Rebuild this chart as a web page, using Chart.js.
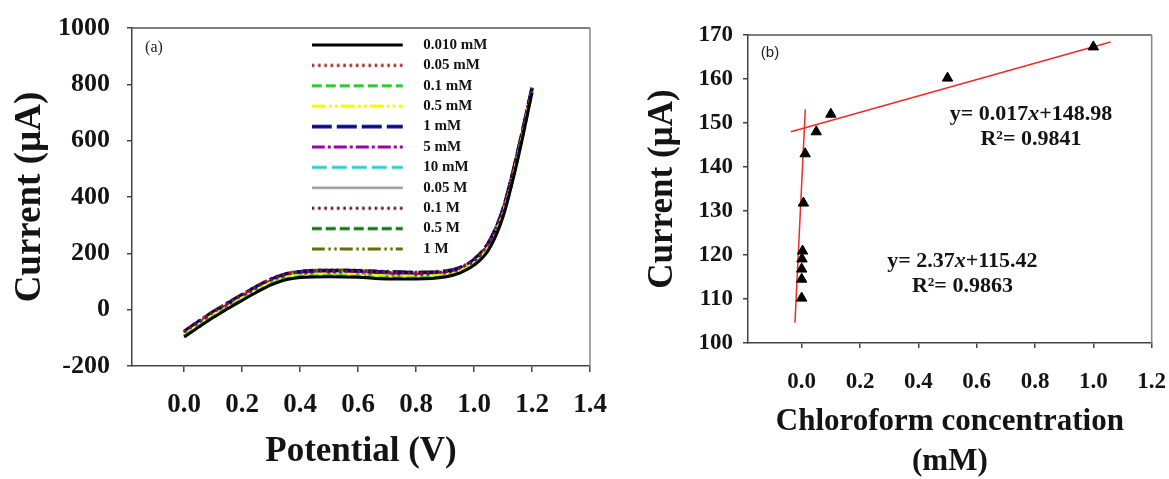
<!DOCTYPE html>
<html><head><meta charset="utf-8">
<script src="https://cdn.jsdelivr.net/npm/chart.js@4.4.1/dist/chart.umd.min.js"></script>
<style>
html,body{margin:0;padding:0;background:#fff;overflow:hidden;width:1169px;height:479px;}
#wa{position:absolute;left:0;top:0;width:620px;height:479px;}
#wb{position:absolute;left:620px;top:0;width:549px;height:479px;}
</style></head><body>
<div id="wa"><canvas id="ca"></canvas></div>
<div id="wb"><canvas id="cb"></canvas></div>
<script>
// ---------- Panel (a) data ----------
const potentials = [0,0.05,0.1,0.15,0.2,0.25,0.3,0.35,0.4,0.5,0.6,0.7,0.8,0.9,0.95,1.0,1.05,1.1,1.15,1.2];
const seriesNames = ['0.010 mM','0.05 mM','0.1 mM','0.5 mM','1 mM','5 mM','10 mM','0.05 M','0.1 M','0.5 M','1 M'];
const i_0010mM = [-97,-62,-28,3,33,62,88,106,114,117,115,109,109,116,130,158,212,330,530,770];
const i_005mM  = [-79,-43,-9,22,52,81,107,125,134,137,136,132,130,135,147,177,236,355,555,787];
const i_01mM   = [-94,-59,-25,6,36,64,91,109,117,120,118,112,112,119,132,161,215,334,534,773];
const i_05mM   = [-89,-53,-19,12,42,71,97,115,123,127,125,120,119,125,138,167,223,342,542,778];
const i_1mM    = [-78,-42,-8,23,53,82,108,126,135,139,138,134,132,136,148,178,238,358,558,788];
const i_5mM    = [-82,-47,-12,18,48,77,103,121,130,134,133,128,126,131,144,173,232,351,551,784];
const i_10mM   = [-84,-49,-15,16,46,75,101,119,128,131,130,125,124,129,142,171,229,348,548,782];
const i_005M   = [-86,-51,-17,14,44,73,99,117,125,129,128,122,121,127,140,169,226,345,545,780];
const i_01M    = [-81,-45,-11,20,50,79,105,123,132,136,135,130,128,133,146,175,234,353,553,786];
const i_05M    = [-92,-56,-23,8,39,67,93,111,120,123,121,116,115,121,135,164,219,337,537,775];
const i_1M     = [-76,-40,-6,25,55,84,110,128,137,141,140,136,134,138,150,180,240,360,560,790];
const xTicksA = [0,0.2,0.4,0.6,0.8,1.0,1.2,1.4];
const yTicksA = [-200,0,200,400,600,800,1000];

// ---------- Panel (b) data ----------
const concB    = [0.000,0.000,0.000,0.001,0.003,0.006,0.012,0.05,0.1,0.5,1.0];
const currentB = [110.2,114.5,116.8,119.1,120.9,131.8,143.0,148.0,152.0,160.2,167.3];
const fitLowX  = [-0.023,0.0124];
const fitLowY  = [104.6,153.1];
const fitHighX = [-0.037,1.059];
const fitHighY = [148.0,168.4];
const xTicksB = [0,0.2,0.4,0.6,0.8,1.0,1.2];
const yTicksB = [100,110,120,130,140,150,160,170];

// ---------- styles ----------
const SERIF = "'Liberation Serif','Times New Roman',serif";
const INK = '#141414';
const seriesStyle = [
  {c:'#000000', d:[], w:3},
  {c:'#9B1010', d:[2.5,3.8], w:3},
  {c:'#1FCC1F', d:[10,4], w:3},
  {c:'#F5F500', d:[14,3,3,3,3,3], w:3},
  {c:'#000080', d:[20,5], w:3.5},
  {c:'#A000A0', d:[13,3,3,3], w:3},
  {c:'#22D0D0', d:[15,5], w:3},
  {c:'#9A9A9A', d:[], w:2.5},
  {c:'#5A0808', d:[2.5,3.8], w:3},
  {c:'#0B6A0B', d:[10,4], w:3},
  {c:'#6B6B00', d:[13,3.5,2.5,3.5,2.5,3], w:3}
];
const seriesData = [i_0010mM,i_005mM,i_01mM,i_05mM,i_1mM,i_5mM,i_10mM,i_005M,i_01M,i_05M,i_1M];

function makeSample(st){
  const cv = document.createElement('canvas');
  cv.width = 104; cv.height = 8;
  const g = cv.getContext('2d');
  g.strokeStyle = st.c; g.lineWidth = st.w; g.setLineDash(st.d);
  g.beginPath(); g.moveTo(0,4); g.lineTo(91,4); g.stroke();
  return cv;
}

const datasetsA = seriesData.map((arr,i)=>({
  label: seriesNames[i],
  data: potentials.map((p,k)=>({x:p, y:arr[k]})),
  borderColor: seriesStyle[i].c,
  borderDash: seriesStyle[i].d,
  borderWidth: seriesStyle[i].w,
  pointRadius: 0,
  fill: false,
  showLine: true,
  cubicInterpolationMode: 'monotone'
}));

function noPad(s){ s.paddingLeft = 0; s.paddingRight = 0; s.paddingTop = 0; s.paddingBottom = 0; }

const frame = {
  id:'frame',
  afterDraw(chart){
    const {ctx, chartArea:a} = chart;
    ctx.save();
    ctx.lineWidth = 1.5;
    ctx.strokeStyle = '#555';
    ctx.beginPath(); ctx.moveTo(a.left, a.top); ctx.lineTo(a.right, a.top); ctx.stroke();
    ctx.strokeStyle = '#888';
    ctx.beginPath(); ctx.moveTo(a.right, a.top); ctx.lineTo(a.right, a.bottom); ctx.stroke();
    ctx.restore();
  }
};
const panelLabel = (txt, font, dx, dy) => ({
  id:'panelLabel',
  afterDraw(chart){
    const {ctx, chartArea:a} = chart;
    ctx.save(); ctx.fillStyle = '#222'; ctx.font = font;
    ctx.textAlign = 'center'; ctx.textBaseline = 'middle';
    ctx.fillText(txt, a.left + dx, a.top + dy);
    ctx.restore();
  }
});
function place(chart){
  const lg = chart.legend; if(!lg) return;
  const w = lg.width;
  lg.left = 306.3; lg.right = lg.left + w;
  lg.top = 32.1; lg.bottom = lg.top + 330;
}
const legendPlace = {
  id:'legendPlace',
  afterLayout(chart){ place(chart); },
  beforeDraw(chart){ place(chart); }
};

new Chart(document.getElementById('ca'), {
  type: 'scatter',
  data: { datasets: datasetsA },
  plugins: [frame, legendPlace, panelLabel('(a)', '16px '+SERIF, 22, 20)],
  options: {
    responsive: true, maintainAspectRatio: false, animation: false,
    layout: { padding: { left: 0, right: 30, top: 28, bottom: 0 } },
    plugins: {
      tooltip: { enabled: false },
      legend: {
        position: 'chartArea', align: 'start',
        labels: {
          usePointStyle: true, pointStyleWidth: 104, boxHeight: 15, padding: 5.4,
          color: INK, font: { family: SERIF, size: 15, weight: 'bold' },
          generateLabels(chart){
            return chart.data.datasets.map((ds,i)=>({
              text: ds.label, fillStyle: ds.borderColor, strokeStyle: ds.borderColor,
              lineWidth: 0, pointStyle: makeSample(seriesStyle[i]), hidden: false,
              datasetIndex: i, fontColor: INK
            }));
          }
        }
      }
    },
    scales: {
      x: {
        type: 'linear', min: -0.18, max: 1.4,
        afterBuildTicks(s){ s.ticks = xTicksA.map(v=>({value:v})); },
        afterFit(s){ s.height = 113; noPad(s); },
        grid: { drawOnChartArea: false, drawTicks: true, tickLength: 6, color: '#444', lineWidth: 1.5 },
        border: { display: true, color: '#444', width: 1.5 },
        ticks: { autoSkip: false, maxRotation: 0, padding: 17, color: INK,
          font: { family: SERIF, size: 27, weight: 'bold' },
          callback: v => Number(v).toFixed(1) },
        title: { display: true, text: 'Potential (V)', color: INK,
          font: { family: SERIF, size: 35, weight: 'bold', lineHeight: 1.2 },
          padding: { top: 0, bottom: 6 } }
      },
      y: {
        type: 'linear', min: -200, max: 1000,
        afterBuildTicks(s){ s.ticks = yTicksA.map(v=>({value:v})); },
        afterFit(s){ s.width = 132; noPad(s); },
        grid: { drawOnChartArea: false, drawTicks: true, tickLength: 5, color: '#444', lineWidth: 1.5 },
        border: { display: true, color: '#444', width: 1.5 },
        ticks: { autoSkip: false, padding: 17, color: INK,
          font: { family: SERIF, size: 26, weight: 'bold' },
          callback: v => String(v) },
        title: { display: true, text: 'Current (\u00B5A)', color: INK,
          font: { family: SERIF, size: 37, weight: 'bold', lineHeight: 1 },
          padding: { top: 12, bottom: 0 } }
      }
    }
  }
});

// ---------- Panel (b) ----------
const RED = '#EE2B2B';
function drawEq(ctx, parts, cx, by){
  const fN = 'bold 22px ' + SERIF, fI = 'italic bold 22px ' + SERIF;
  let tot = 0; const ws = [];
  parts.forEach(p=>{ ctx.font = p.i ? fI : fN; const w = ctx.measureText(p.t).width; ws.push(w); tot += w; });
  let x = cx - tot/2;
  parts.forEach((p,k)=>{ ctx.font = p.i ? fI : fN; ctx.fillText(p.t, x, by); x += ws[k]; });
}
const annotB = {
  id:'annotB',
  afterDatasetsDraw(chart){
    const {ctx, scales:{x, y}} = chart;
    ctx.save(); ctx.fillStyle = INK; ctx.textAlign = 'left'; ctx.textBaseline = 'alphabetic';
    drawEq(ctx, [{t:'y= 0.017'},{t:'x',i:true},{t:'+148.98'}], x.getPixelForValue(0.786), y.getPixelForValue(150.7));
    drawEq(ctx, [{t:'R\u00B2= 0.9841'}], x.getPixelForValue(0.786), y.getPixelForValue(145.0));
    drawEq(ctx, [{t:'y= 2.37'},{t:'x',i:true},{t:'+115.42'}], x.getPixelForValue(0.551), y.getPixelForValue(117.3));
    drawEq(ctx, [{t:'R\u00B2= 0.9863'}], x.getPixelForValue(0.551), y.getPixelForValue(111.5));
    ctx.restore();
  }
};

new Chart(document.getElementById('cb'), {
  type: 'scatter',
  data: { datasets: [
    { label: 'Current', data: concB.map((c,k)=>({x:c, y:currentB[k]})),
      pointStyle: 'triangle', pointRadius: 6, pointBackgroundColor: '#000', pointBorderColor: '#000',
      pointBorderWidth: 1, showLine: false },
    { label: 'Fit low', type: 'line', data: fitLowX.map((v,k)=>({x:v, y:fitLowY[k]})),
      borderColor: RED, borderWidth: 1.5, pointRadius: 0, fill: false },
    { label: 'Fit high', type: 'line', data: fitHighX.map((v,k)=>({x:v, y:fitHighY[k]})),
      borderColor: RED, borderWidth: 1.5, pointRadius: 0, fill: false }
  ]},
  plugins: [frame, annotB, panelLabel('(b)', '15px "Liberation Sans", Arial, sans-serif', 22, 18)],
  options: {
    responsive: true, maintainAspectRatio: false, animation: false,
    layout: { padding: { left: 0, right: 17.3, top: 35, bottom: 0 } },
    plugins: { legend: { display: false }, tooltip: { enabled: false } },
    scales: {
      x: {
        type: 'linear', min: -0.184, max: 1.2,
        afterBuildTicks(s){ s.ticks = xTicksB.map(v=>({value:v})); },
        afterFit(s){ s.height = 136; noPad(s); },
        grid: { drawOnChartArea: false, drawTicks: true, tickLength: 5, color: '#444', lineWidth: 1.5 },
        border: { display: true, color: '#444', width: 1.5 },
        ticks: { autoSkip: false, maxRotation: 0, padding: 20, color: INK,
          font: { family: SERIF, size: 23, weight: 'bold' },
          callback: v => Number(v).toFixed(1) },
        title: { display: true, text: ['Chloroform concentration','(mM)'], color: INK,
          font: { family: SERIF, size: 31, weight: 'bold', lineHeight: 1.29 },
          padding: { top: 0, bottom: -2.7 } }
      },
      y: {
        type: 'linear', min: 100, max: 170,
        afterBuildTicks(s){ s.ticks = yTicksB.map(v=>({value:v})); },
        afterFit(s){ s.width = 128; noPad(s); },
        grid: { drawOnChartArea: false, drawTicks: true, tickLength: 5, color: '#444', lineWidth: 1.5 },
        border: { display: true, color: '#444', width: 1.5 },
        ticks: { autoSkip: false, padding: 10, color: INK,
          font: { family: SERIF, size: 23, weight: 'bold' },
          callback: v => String(v) },
        title: { display: true, text: 'Current (\u00B5A)', color: INK,
          font: { family: SERIF, size: 35, weight: 'bold', lineHeight: 1 },
          padding: { top: 25.7, bottom: 0 } }
      }
    }
  }
});
</script>
</body></html>
